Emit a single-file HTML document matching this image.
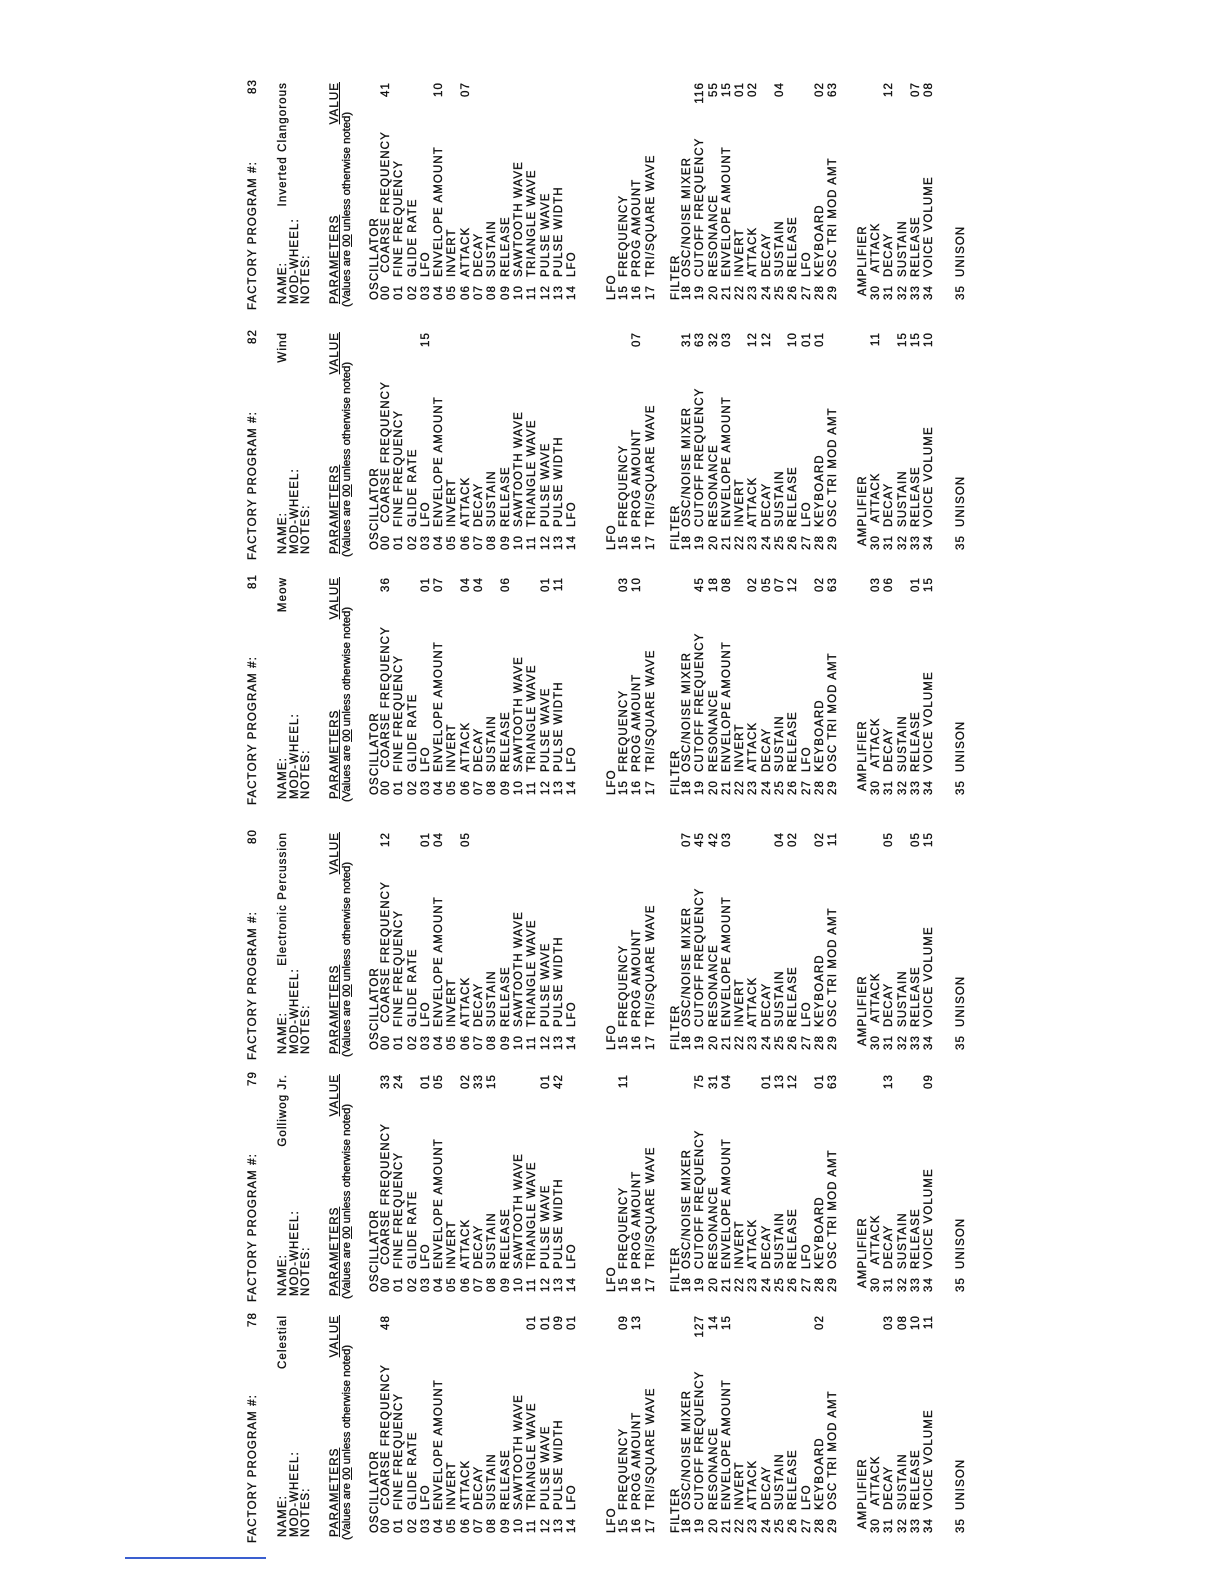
<!DOCTYPE html>
<html><head><meta charset="utf-8">
<style>
html,body{margin:0;padding:0;background:#fff;}
body{width:1224px;height:1584px;overflow:hidden;position:relative;}
#pg{position:absolute;left:0;top:0;width:1584px;height:1224px;transform-origin:0 0;transform:translateY(1584px) rotate(-90deg);font-family:"Liberation Sans",sans-serif;font-size:11.5px;color:#111;letter-spacing:1.1px;-webkit-text-stroke:0.35px #111;}
.b{position:absolute;top:0;width:243px;height:1224px;}
.b div{position:absolute;left:0;width:243px;}
p{margin:0;position:relative;height:13.3px;line-height:13.3px;white-space:nowrap;}
p a{position:absolute;left:10px;}
p i{position:absolute;left:33px;font-style:normal;}
p em{position:absolute;right:15px;font-style:normal;}
.h{position:absolute;left:0;width:243px;height:14px;line-height:14px;white-space:nowrap;}
.h .r{position:absolute;right:15px;}
.h .l{position:absolute;left:6px;}
.ul{text-decoration:underline;}
.vn{letter-spacing:0;font-size:11.3px;}
#bl{position:absolute;left:125px;top:1557px;width:141px;height:2px;background:#3a5fd0;}
</style></head><body>
<div id="pg">

<!-- 78 -->
<div class="b" style="left:41px">
<div class="h" style="top:246px"><span style="position:absolute;left:0">FACTORY PROGRAM #:</span><span class="r" style="right:12px">78</span></div>
<div class="h" style="top:276px"><span class="l">NAME:</span><span class="r">Celestial</span></div>
<div class="h" style="top:288px"><span class="l">MOD-WHEEL:</span></div>
<div class="h" style="top:299px"><span class="l">NOTES:</span></div>
<div class="h" style="top:328px"><span class="l ul">PARAMETERS</span><span class="r ul">VALUE</span></div>
<div class="h vn" style="top:340px"><span style="position:absolute;left:3px">(Values are <span class="ul">00</span> unless otherwise noted)</span></div>
<div class="h" style="top:368px"><span style="position:absolute;left:10px">OSCILLATOR</span></div>
<div style="top:380px">
<p><a>00</a><i>&nbsp;COARSE FREQUENCY</i><em>48</em></p>
<p><a>01</a><i>FINE FREQUENCY</i></p>
<p><a>02</a><i>GLIDE RATE</i></p>
<p><a>03</a><i>LFO</i></p>
<p><a>04</a><i>ENVELOPE AMOUNT</i></p>
<p><a>05</a><i>INVERT</i></p>
<p><a>06</a><i>ATTACK</i></p>
<p><a>07</a><i>DECAY</i></p>
<p><a>08</a><i>SUSTAIN</i></p>
<p><a>09</a><i>RELEASE</i></p>
<p><a>10</a><i>SAWTOOTH WAVE</i></p>
<p><a>11</a><i>TRIANGLE WAVE</i><em>01</em></p>
<p><a>12</a><i>PULSE WAVE</i><em>01</em></p>
<p><a>13</a><i>PULSE WIDTH</i><em>09</em></p>
<p><a>14</a><i>LFO</i><em>01</em></p>
</div>
<div class="h" style="top:605px"><span style="position:absolute;left:10px">LFO</span></div>
<div style="top:618px">
<p><a>15</a><i>FREQUENCY</i><em>09</em></p>
<p><a>16</a><i>PROG AMOUNT</i><em>13</em></p>
<p><a>17</a><i>TRI/SQUARE WAVE</i></p>
</div>
<div class="h" style="top:669px"><span style="position:absolute;left:10px">FILTER</span></div>
<div style="top:681px">
<p><a>18</a><i>OSC/NOISE MIXER</i></p>
<p><a>19</a><i>CUTOFF FREQUENCY</i><em>127</em></p>
<p><a>20</a><i>RESONANCE</i><em>14</em></p>
<p><a>21</a><i>ENVELOPE AMOUNT</i><em>15</em></p>
<p><a>22</a><i>INVERT</i></p>
<p><a>23</a><i>ATTACK</i></p>
<p><a>24</a><i>DECAY</i></p>
<p><a>25</a><i>SUSTAIN</i></p>
<p><a>26</a><i>RELEASE</i></p>
<p><a>27</a><i>LFO</i></p>
<p><a>28</a><i>KEYBOARD</i><em>02</em></p>
<p><a>29</a><i>OSC TRI MOD AMT</i></p>
</div>
<div class="h" style="top:856px"><span style="position:absolute;left:14px">AMPLIFIER</span></div>
<div style="top:870px">
<p><a>30</a><i>&nbsp;ATTACK</i></p>
<p><a>31</a><i>DECAY</i><em>03</em></p>
<p><a>32</a><i>SUSTAIN</i><em>08</em></p>
<p><a>33</a><i>RELEASE</i><em>10</em></p>
<p><a>34</a><i>VOICE VOLUME</i><em>11</em></p>
</div>
<div style="top:955px"><p><a>35</a><i>UNISON</i></p></div>
</div>

<!-- 79 -->
<div class="b" style="left:282px">
<div class="h" style="top:246px"><span style="position:absolute;left:0">FACTORY PROGRAM #:</span><span class="r" style="right:12px">79</span></div>
<div class="h" style="top:276px"><span class="l">NAME:</span><span class="r">Golliwog Jr.</span></div>
<div class="h" style="top:288px"><span class="l">MOD-WHEEL:</span></div>
<div class="h" style="top:299px"><span class="l">NOTES:</span></div>
<div class="h" style="top:328px"><span class="l ul">PARAMETERS</span><span class="r ul">VALUE</span></div>
<div class="h vn" style="top:340px"><span style="position:absolute;left:3px">(Values are <span class="ul">00</span> unless otherwise noted)</span></div>
<div class="h" style="top:368px"><span style="position:absolute;left:10px">OSCILLATOR</span></div>
<div style="top:380px">
<p><a>00</a><i>&nbsp;COARSE FREQUENCY</i><em>33</em></p>
<p><a>01</a><i>FINE FREQUENCY</i><em>24</em></p>
<p><a>02</a><i>GLIDE RATE</i></p>
<p><a>03</a><i>LFO</i><em>01</em></p>
<p><a>04</a><i>ENVELOPE AMOUNT</i><em>05</em></p>
<p><a>05</a><i>INVERT</i></p>
<p><a>06</a><i>ATTACK</i><em>02</em></p>
<p><a>07</a><i>DECAY</i><em>33</em></p>
<p><a>08</a><i>SUSTAIN</i><em>15</em></p>
<p><a>09</a><i>RELEASE</i></p>
<p><a>10</a><i>SAWTOOTH WAVE</i></p>
<p><a>11</a><i>TRIANGLE WAVE</i></p>
<p><a>12</a><i>PULSE WAVE</i><em>01</em></p>
<p><a>13</a><i>PULSE WIDTH</i><em>42</em></p>
<p><a>14</a><i>LFO</i></p>
</div>
<div class="h" style="top:605px"><span style="position:absolute;left:10px">LFO</span></div>
<div style="top:618px">
<p><a>15</a><i>FREQUENCY</i><em>11</em></p>
<p><a>16</a><i>PROG AMOUNT</i></p>
<p><a>17</a><i>TRI/SQUARE WAVE</i></p>
</div>
<div class="h" style="top:669px"><span style="position:absolute;left:10px">FILTER</span></div>
<div style="top:681px">
<p><a>18</a><i>OSC/NOISE MIXER</i></p>
<p><a>19</a><i>CUTOFF FREQUENCY</i><em>75</em></p>
<p><a>20</a><i>RESONANCE</i><em>31</em></p>
<p><a>21</a><i>ENVELOPE AMOUNT</i><em>04</em></p>
<p><a>22</a><i>INVERT</i></p>
<p><a>23</a><i>ATTACK</i></p>
<p><a>24</a><i>DECAY</i><em>01</em></p>
<p><a>25</a><i>SUSTAIN</i><em>13</em></p>
<p><a>26</a><i>RELEASE</i><em>12</em></p>
<p><a>27</a><i>LFO</i></p>
<p><a>28</a><i>KEYBOARD</i><em>01</em></p>
<p><a>29</a><i>OSC TRI MOD AMT</i><em>63</em></p>
</div>
<div class="h" style="top:856px"><span style="position:absolute;left:14px">AMPLIFIER</span></div>
<div style="top:870px">
<p><a>30</a><i>&nbsp;ATTACK</i></p>
<p><a>31</a><i>DECAY</i><em>13</em></p>
<p><a>32</a><i>SUSTAIN</i></p>
<p><a>33</a><i>RELEASE</i></p>
<p><a>34</a><i>VOICE VOLUME</i><em>09</em></p>
</div>
<div style="top:955px"><p><a>35</a><i>UNISON</i></p></div>
</div>

<!-- 80 -->
<div class="b" style="left:524px">
<div class="h" style="top:246px"><span style="position:absolute;left:0">FACTORY PROGRAM #:</span><span class="r" style="right:12px">80</span></div>
<div class="h" style="top:276px"><span class="l">NAME:</span><span class="r">Electronic Percussion</span></div>
<div class="h" style="top:288px"><span class="l">MOD-WHEEL:</span></div>
<div class="h" style="top:299px"><span class="l">NOTES:</span></div>
<div class="h" style="top:328px"><span class="l ul">PARAMETERS</span><span class="r ul">VALUE</span></div>
<div class="h vn" style="top:340px"><span style="position:absolute;left:3px">(Values are <span class="ul">00</span> unless otherwise noted)</span></div>
<div class="h" style="top:368px"><span style="position:absolute;left:10px">OSCILLATOR</span></div>
<div style="top:380px">
<p><a>00</a><i>&nbsp;COARSE FREQUENCY</i><em>12</em></p>
<p><a>01</a><i>FINE FREQUENCY</i></p>
<p><a>02</a><i>GLIDE RATE</i></p>
<p><a>03</a><i>LFO</i><em>01</em></p>
<p><a>04</a><i>ENVELOPE AMOUNT</i><em>04</em></p>
<p><a>05</a><i>INVERT</i></p>
<p><a>06</a><i>ATTACK</i><em>05</em></p>
<p><a>07</a><i>DECAY</i></p>
<p><a>08</a><i>SUSTAIN</i></p>
<p><a>09</a><i>RELEASE</i></p>
<p><a>10</a><i>SAWTOOTH WAVE</i></p>
<p><a>11</a><i>TRIANGLE WAVE</i></p>
<p><a>12</a><i>PULSE WAVE</i></p>
<p><a>13</a><i>PULSE WIDTH</i></p>
<p><a>14</a><i>LFO</i></p>
</div>
<div class="h" style="top:605px"><span style="position:absolute;left:10px">LFO</span></div>
<div style="top:618px">
<p><a>15</a><i>FREQUENCY</i></p>
<p><a>16</a><i>PROG AMOUNT</i></p>
<p><a>17</a><i>TRI/SQUARE WAVE</i></p>
</div>
<div class="h" style="top:669px"><span style="position:absolute;left:10px">FILTER</span></div>
<div style="top:681px">
<p><a>18</a><i>OSC/NOISE MIXER</i><em>07</em></p>
<p><a>19</a><i>CUTOFF FREQUENCY</i><em>45</em></p>
<p><a>20</a><i>RESONANCE</i><em>42</em></p>
<p><a>21</a><i>ENVELOPE AMOUNT</i><em>03</em></p>
<p><a>22</a><i>INVERT</i></p>
<p><a>23</a><i>ATTACK</i></p>
<p><a>24</a><i>DECAY</i></p>
<p><a>25</a><i>SUSTAIN</i><em>04</em></p>
<p><a>26</a><i>RELEASE</i><em>02</em></p>
<p><a>27</a><i>LFO</i></p>
<p><a>28</a><i>KEYBOARD</i><em>02</em></p>
<p><a>29</a><i>OSC TRI MOD AMT</i><em>11</em></p>
</div>
<div class="h" style="top:856px"><span style="position:absolute;left:14px">AMPLIFIER</span></div>
<div style="top:870px">
<p><a>30</a><i>&nbsp;ATTACK</i></p>
<p><a>31</a><i>DECAY</i><em>05</em></p>
<p><a>32</a><i>SUSTAIN</i></p>
<p><a>33</a><i>RELEASE</i><em>05</em></p>
<p><a>34</a><i>VOICE VOLUME</i><em>15</em></p>
</div>
<div style="top:955px"><p><a>35</a><i>UNISON</i></p></div>
</div>

<!-- 81 -->
<div class="b" style="left:779px">
<div class="h" style="top:246px"><span style="position:absolute;left:0">FACTORY PROGRAM #:</span><span class="r" style="right:12px">81</span></div>
<div class="h" style="top:276px"><span class="l">NAME:</span><span class="r">Meow</span></div>
<div class="h" style="top:288px"><span class="l">MOD-WHEEL:</span></div>
<div class="h" style="top:299px"><span class="l">NOTES:</span></div>
<div class="h" style="top:328px"><span class="l ul">PARAMETERS</span><span class="r ul">VALUE</span></div>
<div class="h vn" style="top:340px"><span style="position:absolute;left:3px">(Values are <span class="ul">00</span> unless otherwise noted)</span></div>
<div class="h" style="top:368px"><span style="position:absolute;left:10px">OSCILLATOR</span></div>
<div style="top:380px">
<p><a>00</a><i>&nbsp;COARSE FREQUENCY</i><em>36</em></p>
<p><a>01</a><i>FINE FREQUENCY</i></p>
<p><a>02</a><i>GLIDE RATE</i></p>
<p><a>03</a><i>LFO</i><em>01</em></p>
<p><a>04</a><i>ENVELOPE AMOUNT</i><em>07</em></p>
<p><a>05</a><i>INVERT</i></p>
<p><a>06</a><i>ATTACK</i><em>04</em></p>
<p><a>07</a><i>DECAY</i><em>04</em></p>
<p><a>08</a><i>SUSTAIN</i></p>
<p><a>09</a><i>RELEASE</i><em>06</em></p>
<p><a>10</a><i>SAWTOOTH WAVE</i></p>
<p><a>11</a><i>TRIANGLE WAVE</i></p>
<p><a>12</a><i>PULSE WAVE</i><em>01</em></p>
<p><a>13</a><i>PULSE WIDTH</i><em>11</em></p>
<p><a>14</a><i>LFO</i></p>
</div>
<div class="h" style="top:605px"><span style="position:absolute;left:10px">LFO</span></div>
<div style="top:618px">
<p><a>15</a><i>FREQUENCY</i><em>03</em></p>
<p><a>16</a><i>PROG AMOUNT</i><em>10</em></p>
<p><a>17</a><i>TRI/SQUARE WAVE</i></p>
</div>
<div class="h" style="top:669px"><span style="position:absolute;left:10px">FILTER</span></div>
<div style="top:681px">
<p><a>18</a><i>OSC/NOISE MIXER</i></p>
<p><a>19</a><i>CUTOFF FREQUENCY</i><em>45</em></p>
<p><a>20</a><i>RESONANCE</i><em>18</em></p>
<p><a>21</a><i>ENVELOPE AMOUNT</i><em>08</em></p>
<p><a>22</a><i>INVERT</i></p>
<p><a>23</a><i>ATTACK</i><em>02</em></p>
<p><a>24</a><i>DECAY</i><em>05</em></p>
<p><a>25</a><i>SUSTAIN</i><em>07</em></p>
<p><a>26</a><i>RELEASE</i><em>12</em></p>
<p><a>27</a><i>LFO</i></p>
<p><a>28</a><i>KEYBOARD</i><em>02</em></p>
<p><a>29</a><i>OSC TRI MOD AMT</i><em>63</em></p>
</div>
<div class="h" style="top:856px"><span style="position:absolute;left:14px">AMPLIFIER</span></div>
<div style="top:870px">
<p><a>30</a><i>&nbsp;ATTACK</i><em>03</em></p>
<p><a>31</a><i>DECAY</i><em>06</em></p>
<p><a>32</a><i>SUSTAIN</i></p>
<p><a>33</a><i>RELEASE</i><em>01</em></p>
<p><a>34</a><i>VOICE VOLUME</i><em>15</em></p>
</div>
<div style="top:955px"><p><a>35</a><i>UNISON</i></p></div>
</div>

<!-- 82 -->
<div class="b" style="left:1024px">
<div class="h" style="top:246px"><span style="position:absolute;left:0">FACTORY PROGRAM #:</span><span class="r" style="right:12px">82</span></div>
<div class="h" style="top:276px"><span class="l">NAME:</span><span class="r">Wind</span></div>
<div class="h" style="top:288px"><span class="l">MOD-WHEEL:</span></div>
<div class="h" style="top:299px"><span class="l">NOTES:</span></div>
<div class="h" style="top:328px"><span class="l ul">PARAMETERS</span><span class="r ul">VALUE</span></div>
<div class="h vn" style="top:340px"><span style="position:absolute;left:3px">(Values are <span class="ul">00</span> unless otherwise noted)</span></div>
<div class="h" style="top:368px"><span style="position:absolute;left:10px">OSCILLATOR</span></div>
<div style="top:380px">
<p><a>00</a><i>&nbsp;COARSE FREQUENCY</i></p>
<p><a>01</a><i>FINE FREQUENCY</i></p>
<p><a>02</a><i>GLIDE RATE</i></p>
<p><a>03</a><i>LFO</i><em>15</em></p>
<p><a>04</a><i>ENVELOPE AMOUNT</i></p>
<p><a>05</a><i>INVERT</i></p>
<p><a>06</a><i>ATTACK</i></p>
<p><a>07</a><i>DECAY</i></p>
<p><a>08</a><i>SUSTAIN</i></p>
<p><a>09</a><i>RELEASE</i></p>
<p><a>10</a><i>SAWTOOTH WAVE</i></p>
<p><a>11</a><i>TRIANGLE WAVE</i></p>
<p><a>12</a><i>PULSE WAVE</i></p>
<p><a>13</a><i>PULSE WIDTH</i></p>
<p><a>14</a><i>LFO</i></p>
</div>
<div class="h" style="top:605px"><span style="position:absolute;left:10px">LFO</span></div>
<div style="top:618px">
<p><a>15</a><i>FREQUENCY</i></p>
<p><a>16</a><i>PROG AMOUNT</i><em>07</em></p>
<p><a>17</a><i>TRI/SQUARE WAVE</i></p>
</div>
<div class="h" style="top:669px"><span style="position:absolute;left:10px">FILTER</span></div>
<div style="top:681px">
<p><a>18</a><i>OSC/NOISE MIXER</i><em>31</em></p>
<p><a>19</a><i>CUTOFF FREQUENCY</i><em>63</em></p>
<p><a>20</a><i>RESONANCE</i><em>32</em></p>
<p><a>21</a><i>ENVELOPE AMOUNT</i><em>03</em></p>
<p><a>22</a><i>INVERT</i></p>
<p><a>23</a><i>ATTACK</i><em>12</em></p>
<p><a>24</a><i>DECAY</i><em>12</em></p>
<p><a>25</a><i>SUSTAIN</i></p>
<p><a>26</a><i>RELEASE</i><em>10</em></p>
<p><a>27</a><i>LFO</i><em>01</em></p>
<p><a>28</a><i>KEYBOARD</i><em>01</em></p>
<p><a>29</a><i>OSC TRI MOD AMT</i></p>
</div>
<div class="h" style="top:856px"><span style="position:absolute;left:14px">AMPLIFIER</span></div>
<div style="top:870px">
<p><a>30</a><i>&nbsp;ATTACK</i><em>11</em></p>
<p><a>31</a><i>DECAY</i></p>
<p><a>32</a><i>SUSTAIN</i><em>15</em></p>
<p><a>33</a><i>RELEASE</i><em>15</em></p>
<p><a>34</a><i>VOICE VOLUME</i><em>10</em></p>
</div>
<div style="top:955px"><p><a>35</a><i>UNISON</i></p></div>
</div>

<!-- 83 -->
<div class="b" style="left:1274px">
<div class="h" style="top:246px"><span style="position:absolute;left:0">FACTORY PROGRAM #:</span><span class="r" style="right:12px">83</span></div>
<div class="h" style="top:276px"><span class="l">NAME:</span><span class="r">Inverted Clangorous</span></div>
<div class="h" style="top:288px"><span class="l">MOD-WHEEL:</span></div>
<div class="h" style="top:299px"><span class="l">NOTES:</span></div>
<div class="h" style="top:328px"><span class="l ul">PARAMETERS</span><span class="r ul">VALUE</span></div>
<div class="h vn" style="top:340px"><span style="position:absolute;left:3px">(Values are <span class="ul">00</span> unless otherwise noted)</span></div>
<div class="h" style="top:368px"><span style="position:absolute;left:10px">OSCILLATOR</span></div>
<div style="top:380px">
<p><a>00</a><i>&nbsp;COARSE FREQUENCY</i><em>41</em></p>
<p><a>01</a><i>FINE FREQUENCY</i></p>
<p><a>02</a><i>GLIDE RATE</i></p>
<p><a>03</a><i>LFO</i></p>
<p><a>04</a><i>ENVELOPE AMOUNT</i><em>10</em></p>
<p><a>05</a><i>INVERT</i></p>
<p><a>06</a><i>ATTACK</i><em>07</em></p>
<p><a>07</a><i>DECAY</i></p>
<p><a>08</a><i>SUSTAIN</i></p>
<p><a>09</a><i>RELEASE</i></p>
<p><a>10</a><i>SAWTOOTH WAVE</i></p>
<p><a>11</a><i>TRIANGLE WAVE</i></p>
<p><a>12</a><i>PULSE WAVE</i></p>
<p><a>13</a><i>PULSE WIDTH</i></p>
<p><a>14</a><i>LFO</i></p>
</div>
<div class="h" style="top:605px"><span style="position:absolute;left:10px">LFO</span></div>
<div style="top:618px">
<p><a>15</a><i>FREQUENCY</i></p>
<p><a>16</a><i>PROG AMOUNT</i></p>
<p><a>17</a><i>TRI/SQUARE WAVE</i></p>
</div>
<div class="h" style="top:669px"><span style="position:absolute;left:10px">FILTER</span></div>
<div style="top:681px">
<p><a>18</a><i>OSC/NOISE MIXER</i></p>
<p><a>19</a><i>CUTOFF FREQUENCY</i><em>116</em></p>
<p><a>20</a><i>RESONANCE</i><em>55</em></p>
<p><a>21</a><i>ENVELOPE AMOUNT</i><em>15</em></p>
<p><a>22</a><i>INVERT</i><em>01</em></p>
<p><a>23</a><i>ATTACK</i><em>02</em></p>
<p><a>24</a><i>DECAY</i></p>
<p><a>25</a><i>SUSTAIN</i><em>04</em></p>
<p><a>26</a><i>RELEASE</i></p>
<p><a>27</a><i>LFO</i></p>
<p><a>28</a><i>KEYBOARD</i><em>02</em></p>
<p><a>29</a><i>OSC TRI MOD AMT</i><em>63</em></p>
</div>
<div class="h" style="top:856px"><span style="position:absolute;left:14px">AMPLIFIER</span></div>
<div style="top:870px">
<p><a>30</a><i>&nbsp;ATTACK</i></p>
<p><a>31</a><i>DECAY</i><em>12</em></p>
<p><a>32</a><i>SUSTAIN</i></p>
<p><a>33</a><i>RELEASE</i><em>07</em></p>
<p><a>34</a><i>VOICE VOLUME</i><em>08</em></p>
</div>
<div style="top:955px"><p><a>35</a><i>UNISON</i></p></div>
</div>

</div>
<div id="bl"></div>
</body></html>
